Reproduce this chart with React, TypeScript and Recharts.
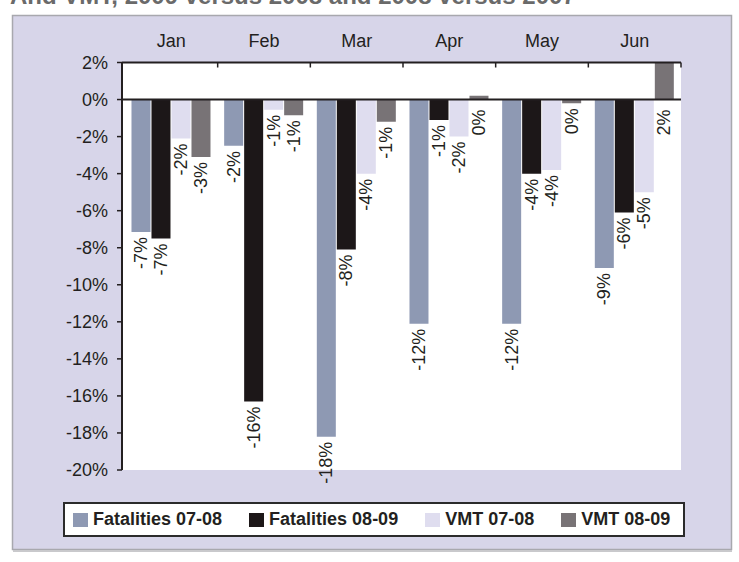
import React from 'react';
import { BarChart, Bar, XAxis, YAxis, CartesianGrid, ReferenceLine, LabelList } from 'recharts';

const months = ['Jan', 'Feb', 'Mar', 'Apr', 'May', 'Jun'];
const fatalities0708 = [-7.15, -2.5, -18.2, -12.1, -12.1, -9.1];
const fatalities0809 = [-7.5, -16.3, -8.1, -1.1, -4.0, -6.1];
const vmt0708 = [-2.1, -0.55, -4.0, -2.0, -3.8, -5.0];
const vmt0809 = [-3.1, -0.85, -1.2, 0.2, -0.2, 2.0];
const yTicks = [2, 0, -2, -4, -6, -8, -10, -12, -14, -16, -18, -20];
const seriesKeys = ['f0708', 'f0809', 'v0708', 'v0809'];
const seriesNames = ['Fatalities 07-08', 'Fatalities 08-09', 'VMT 07-08', 'VMT 08-09'];
const seriesColors = ['#8e99b3', '#1c1718', '#dfddef', '#787376'];
const titleText = 'And VMT, 2009 versus 2008 and 2008 versus 2007';

const data = months.map((m, i) => ({
  month: m,
  f0708: fatalities0708[i],
  f0809: fatalities0809[i],
  v0708: vmt0708[i],
  v0809: vmt0809[i],
}));

const FONT = "'Liberation Sans', Arial, sans-serif";
const INK = '#231f20';

const BarLabel = (props: any) => {
  const { x, y, width, height, value } = props;
  if (value === undefined || value === null) return null;
  const cx = Number(x) + Number(width) / 2;
  const end = Math.max(Number(y), Number(y) + Number(height));
  const yy = end + (Number(value) < 0 ? 5 : 10);
  const txt = `${Math.round(Number(value)) || 0}%`;
  return (
    <text
      x={cx}
      y={yy}
      transform={`rotate(-90 ${cx} ${yy})`}
      textAnchor="end"
      dominantBaseline="central"
      fill={INK}
      fontSize={18}
      fontFamily={FONT}
    >
      {txt}
    </text>
  );
};

const TopTick = (props: any) => {
  const { x, y, payload } = props;
  const axisY = Number(y) + 12;
  const off = payload && typeof payload.offset === 'number' ? payload.offset : 0;
  return (
    <g>
      <text x={x} y={Number(y) - 3.5} textAnchor="middle" fill={INK} fontSize={18} fontFamily={FONT}>
        {payload.value}
      </text>
      {off > 0 && (
        <line x1={Number(x) + off} x2={Number(x) + off} y1={axisY} y2={axisY + 5} stroke={INK} strokeWidth={1.5} />
      )}
    </g>
  );
};

export default function App() {
  return (
    <div style={{ position: 'absolute', left: 0, top: 0, width: 739, height: 562, background: '#ffffff', overflow: 'hidden' }}>
      <svg width={739} height={562} style={{ position: 'absolute', left: 0, top: 0 }}>
        <text x={10} y={4} fill="#6a6a6a" fontSize={24} fontWeight="bold" fontFamily={FONT}>
          {titleText}
        </text>
        <rect x={12.5} y={15.5} width={719} height={534} fill="#d7d5e9" stroke="#a8a8ae" strokeWidth={1.5} />
        <line x1={13} x2={732} y1={551} y2={551} stroke="#c9c9cc" strokeWidth={2} />
      </svg>
      <div style={{ position: 'absolute', left: 0, top: 0 }}>
        <BarChart
          width={739}
          height={562}
          data={data}
          margin={{ top: 32.5, left: 62, right: 58, bottom: 92 }}
          barCategoryGap="7%"
          barGap={1}
        >
          <CartesianGrid horizontal={false} vertical={false} fill="#ffffff" />
          <XAxis
            dataKey="month"
            orientation="top"
            height={30}
            interval={0}
            padding={{ left: 3, right: 0 }}
            tickSize={0}
            tickMargin={12}
            tickLine={false}
            axisLine={{ stroke: INK, strokeWidth: 2 }}
            tick={<TopTick />}
          />
          <YAxis
            type="number"
            domain={[-20, 2]}
            ticks={yTicks}
            interval={0}
            allowDataOverflow
            width={60}
            tickSize={5}
            tickMargin={9}
            tickFormatter={(v: number) => `${v}%`}
            axisLine={{ stroke: INK, strokeWidth: 2 }}
            tickLine={{ stroke: INK, strokeWidth: 1.5 }}
            tick={{ fill: INK, fontSize: 18, fontFamily: FONT }}
          />
          {seriesKeys.map((k, i) => (
            <Bar key={k} dataKey={k} name={seriesNames[i]} fill={seriesColors[i]} isAnimationActive={false}>
              <LabelList dataKey={k} content={<BarLabel />} />
            </Bar>
          ))}
          <ReferenceLine y={0} stroke={INK} strokeWidth={2} />
        </BarChart>
      </div>
      <div
        style={{
          position: 'absolute',
          left: 63,
          top: 502,
          width: 622,
          height: 35,
          boxSizing: 'border-box',
          border: '2px solid #2b2b2b',
          background: '#ffffff',
          display: 'flex',
          alignItems: 'center',
          paddingLeft: 8,
          gap: 27,
          fontFamily: FONT,
          fontWeight: 'bold',
          fontSize: 18,
          color: INK,
          whiteSpace: 'nowrap',
        }}
      >
        {seriesNames.map((n, i) => (
          <div key={n} style={{ display: 'flex', alignItems: 'center' }}>
            <span style={{ display: 'inline-block', width: 15, height: 14, background: seriesColors[i], marginRight: 5 }} />
            <span>{n}</span>
          </div>
        ))}
      </div>
    </div>
  );
}
